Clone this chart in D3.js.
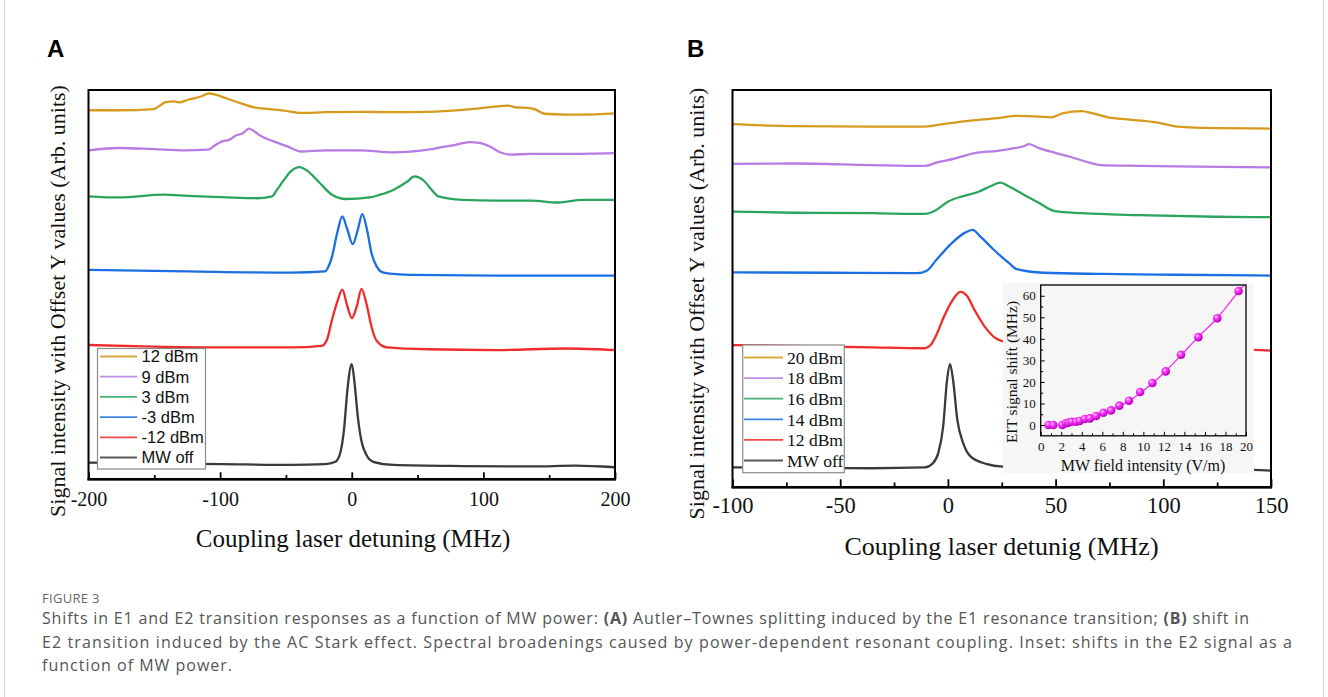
<!DOCTYPE html>
<html><head><meta charset="utf-8">
<script src="https://cdn.jsdelivr.net/npm/d3@7"></script>
<style>body{margin:0;background:#fff;} svg{display:block;}</style>
</head><body>
<svg id="fig" width="1328" height="697"></svg>
<script>
// ---------------- data ----------------
const xTicksA = [-200, -100, 0, 100, 200];
const xMinorA = [-150, -50, 50, 150];
const xTicksB = [-100, -50, 0, 50, 100, 150];
const xMinorB = [-75, -25, 25, 75, 125];
const insetXTicks = [0, 2, 4, 6, 8, 10, 12, 14, 16, 18, 20];
const insetXMinor = [1, 3, 5, 7, 9, 11, 13, 15, 17, 19];
const insetYTicks = [0, 10, 20, 30, 40, 50, 60];
const insetYMinor = [5, 15, 25, 35, 45, 55];

const legendA = ["12 dBm", "9 dBm", "3 dBm", "-3 dBm", "-12 dBm", "MW off"];
const legendB = ["20 dBm", "18 dBm", "16 dBm", "14 dBm", "12 dBm", "MW off"];
const traceColors = ["#d69a1c", "#b77be3", "#2ba45f", "#1b6fe3", "#ef2b2b", "#3a3a3a"];

// Panel A traces: [detuning MHz, offset signal (a.u.)]
const A_12dBm = [[-200,9.48],[-176.5,9.48],[-150.5,9.51],[-146.6,9.58],[-141.4,9.69],[-134.9,9.71],[-130.9,9.68],[-124.4,9.75],[-114,9.84],[-108.8,9.91],[-103.6,9.88],[-95.8,9.79],[-85.3,9.67],[-74.9,9.56],[-61.9,9.51],[-51.5,9.47],[-38.4,9.41],[-20.2,9.43],[5.9,9.44],[31.9,9.43],[58,9.44],[84,9.49],[97.1,9.53],[110.1,9.58],[117.9,9.60],[125.7,9.55],[133.6,9.54],[138.8,9.51],[146.6,9.39],[162.2,9.37],[175.3,9.37],[200,9.40]];
const A_9dBm = [[-200,8.45],[-176.5,8.51],[-150.5,8.48],[-127,8.45],[-108.8,8.47],[-103.6,8.59],[-98.4,8.68],[-93.2,8.72],[-88,8.83],[-82.7,8.89],[-78,9.01],[-74.9,8.96],[-69.7,8.83],[-59.3,8.68],[-48.9,8.55],[-38.4,8.42],[-20.2,8.45],[5.9,8.45],[31.9,8.40],[58,8.47],[68.4,8.53],[78.8,8.59],[89.3,8.66],[97.1,8.64],[104.9,8.55],[112.7,8.40],[120.5,8.34],[136.2,8.36],[162.2,8.36],[200,8.38]];
const A_3dBm = [[-200,7.27],[-176.5,7.24],[-142.7,7.31],[-124.4,7.28],[-98.4,7.25],[-72.3,7.22],[-60.6,7.27],[-56.7,7.44],[-51.5,7.69],[-46.3,7.91],[-39.7,8.02],[-33.2,7.91],[-25.4,7.65],[-15,7.31],[-4.6,7.20],[13.7,7.24],[21.5,7.31],[31.9,7.44],[42.3,7.65],[47.6,7.78],[54.1,7.69],[60.6,7.44],[65.8,7.27],[84,7.18],[110.1,7.16],[136.2,7.16],[157,7.11],[175.3,7.18],[200,7.18]];
const A_m3dBm = [[-200,5.38],[-124.4,5.34],[-46.3,5.31],[-20.2,5.34],[-17.6,5.47],[-15,5.72],[-11.1,6.32],[-7.2,6.75],[-3.3,6.41],[0.7,6.04],[4.6,6.41],[8,6.81],[11.6,6.41],[15,5.81],[18.9,5.47],[24.1,5.31],[44.9,5.25],[110.1,5.23],[200,5.23]];
const A_m12dBm = [[-200,3.45],[-150.5,3.41],[-98.4,3.39],[-46.3,3.39],[-22.8,3.43],[-18.9,3.58],[-15,4.10],[-10.5,4.61],[-7.2,4.87],[-3.3,4.44],[0.1,4.14],[3.8,4.44],[7.4,4.89],[11.1,4.52],[15,3.92],[18.9,3.56],[26.7,3.39],[58,3.34],[110.1,3.32],[162.2,3.36],[200,3.32]];
const A_off = [[-200,0.43],[-150.5,0.41],[-98.4,0.39],[-46.3,0.37],[-20.2,0.39],[-12.4,0.45],[-8.5,0.71],[-5.9,1.27],[-3.3,2.30],[0,2.96],[1.9,2.55],[4.6,1.61],[7.2,1.01],[11.1,0.63],[16.3,0.45],[31.9,0.37],[84,0.34],[136.2,0.33],[170,0.35],[200,0.31]];

// Panel B traces
const B_20dBm = [[-100,9.14],[-71.1,9.09],[-35.5,9.08],[-10.7,9.08],[0,9.16],[10.6,9.23],[23,9.29],[31.9,9.35],[42.6,9.33],[47.9,9.31],[53.2,9.41],[62.1,9.47],[67.4,9.41],[74.5,9.31],[83.4,9.26],[97.6,9.18],[106.5,9.08],[124.3,9.04],[150,9.03]];
const B_18dBm = [[-100,8.14],[-71.1,8.15],[-35.5,8.11],[-10.7,8.09],[-5.4,8.17],[3.5,8.28],[12.4,8.41],[23,8.47],[30.2,8.53],[35.5,8.59],[37.6,8.64],[42.6,8.53],[49.7,8.42],[56.8,8.32],[63.9,8.20],[71,8.11],[88.7,8.09],[115.4,8.07],[150,8.05]];
const B_16dBm = [[-100,6.94],[-71.1,6.91],[-35.5,6.90],[-10.7,6.88],[-5.4,6.98],[0,7.19],[7.1,7.33],[14.2,7.44],[19.5,7.57],[24.4,7.67],[28.4,7.57],[35.5,7.36],[42.6,7.15],[49.7,6.95],[62.1,6.90],[88.7,6.85],[124.3,6.81],[150,6.80]];
const B_14dBm = [[-100,5.41],[-53.4,5.40],[-14.2,5.39],[-9.8,5.45],[-5.4,5.72],[1.7,6.14],[8,6.41],[11.5,6.48],[15.1,6.31],[21.3,5.98],[28.4,5.64],[31.9,5.49],[44.4,5.40],[71,5.37],[106.5,5.35],[150,5.33]];
const B_12dBm = [[-100,3.58],[-71.1,3.56],[-35.5,3.52],[-10.7,3.50],[-8,3.58],[-5.4,3.83],[-1.8,4.30],[1.7,4.67],[5.8,4.92],[8.8,4.82],[12.4,4.46],[17.7,4.00],[22.2,3.75],[25.7,3.67],[35,3.55],[60,3.50],[100,3.47],[142,3.46],[150,3.44]];
const B_off = [[-100,0.50],[-71.1,0.50],[-35.5,0.48],[-10.7,0.50],[-7.1,0.60],[-4.5,0.86],[-2.2,1.53],[-0.4,2.70],[1,3.10],[2.4,2.70],[4.4,1.69],[7.1,1.11],[10.6,0.77],[17.7,0.59],[25.7,0.52],[60,0.48],[100,0.46],[142,0.44],[150,0.42]];

// Inset: MW field intensity (V/m) vs EIT signal shift (MHz)
const insetField = [0.75,1.23,2.1,2.47,2.7,3.0,3.45,3.8,4.3,4.8,5.4,6.1,6.85,7.66,8.6,9.68,10.88,12.18,13.67,15.36,17.2,19.28];
const insetShift = [0,0,0,0.8,1.1,1.5,1.5,1.9,2.8,3.1,4.2,5.7,6.8,9.0,11.3,15.3,19.5,24.9,32.6,40.8,49.6,62.2];
const insetFitField = [2.1,3.0,4.3,5.4,6.85,8.6,10.88,12.18,13.67,15.36,17.2,19.28,20.0];
const insetFitShift = [0.3,1.3,2.7,4.2,6.9,11.2,19.4,25.0,32.4,40.9,49.7,62.0,66.0];

const captionTitle = "FIGURE 3";

// ---------------- drawing ----------------
const svg = d3.select("#fig");
const SERIF = "'Liberation Serif','Times New Roman',serif";
const SANS = "'Liberation Sans',Arial,sans-serif";
const plain = d => String(d);

svg.append("line").attr("x1",4.5).attr("x2",4.5).attr("y1",0).attr("y2",697).attr("stroke","#d8d8d8");
svg.append("line").attr("x1",1323.5).attr("x2",1323.5).attr("y1",0).attr("y2",697).attr("stroke","#d8d8d8");

const defs = svg.append("defs");
const grad = defs.append("radialGradient").attr("id","ball").attr("cx","38%").attr("cy","35%").attr("r","65%");
grad.append("stop").attr("offset","0%").attr("stop-color","#ffe0ff");
grad.append("stop").attr("offset","35%").attr("stop-color","#ff3cff");
grad.append("stop").attr("offset","100%").attr("stop-color","#b000b8");

function panel(cfg) {
  const x = d3.scaleLinear().domain(cfg.xDomain).range([cfg.left, cfg.right]);
  const y = d3.scaleLinear().domain([0, 10]).range([cfg.bottom, cfg.top]);
  const g = svg.append("g");
  defs.append("clipPath").attr("id", cfg.id + "clip")
    .append("rect").attr("x", cfg.left).attr("y", cfg.top)
    .attr("width", cfg.right - cfg.left).attr("height", cfg.bottom - cfg.top);

  const line = d3.line().x(d => x(d[0])).y(d => y(d[1])).curve(d3.curveMonotoneX);
  const traces = g.append("g").attr("clip-path", `url(#${cfg.id}clip)`);
  cfg.traces.forEach((t, i) => {
    traces.append("path").datum(t).attr("d", line)
      .attr("fill", "none").attr("stroke", traceColors[i])
      .attr("stroke-width", 2.3).attr("stroke-linejoin", "round");
  });

  const ax = g.append("g").attr("transform", `translate(0,${cfg.bottom})`)
    .call(d3.axisBottom(x).tickValues(cfg.ticks).tickSize(-cfg.tickLen).tickPadding(cfg.pad).tickFormat(plain));
  ax.select(".domain").remove();
  ax.selectAll(".tick line").attr("stroke", "#000").attr("stroke-width", 1.8);
  ax.selectAll(".tick text").attr("font-family", SERIF).attr("font-size", cfg.tickFont).attr("fill", "#111");
  const mx = g.append("g").attr("transform", `translate(0,${cfg.bottom})`)
    .call(d3.axisBottom(x).tickValues(cfg.minor).tickSize(-cfg.tickLen * 0.6).tickFormat(""));
  mx.select(".domain").remove();
  mx.selectAll(".tick line").attr("stroke", "#000").attr("stroke-width", 1.8);

  g.append("rect").attr("x", cfg.left).attr("y", cfg.top)
    .attr("width", cfg.right - cfg.left).attr("height", cfg.bottom - cfg.top)
    .attr("fill", "none").attr("stroke", "#000").attr("stroke-width", 2);
  g.append("line").attr("x1", cfg.left - 1).attr("x2", cfg.right + 1)
    .attr("y1", cfg.bottom).attr("y2", cfg.bottom).attr("stroke", "#000").attr("stroke-width", 2.6);

  g.append("text").attr("x", cfg.xLabelX).attr("y", cfg.xLabelY).attr("text-anchor", "middle")
    .attr("font-family", SERIF).attr("font-size", cfg.xLabelFont).attr("fill", "#111").text(cfg.xLabel);
  g.append("text").attr("transform", `translate(${cfg.yLabelX},${cfg.yLabelY}) rotate(-90)`)
    .attr("text-anchor", "middle").attr("font-family", SERIF).attr("font-size", 22).attr("fill", "#111")
    .text("Signal intensity with Offset Y values (Arb. units)");
  g.append("text").attr("x", cfg.letterX).attr("y", 57).attr("font-family", SANS)
    .attr("font-weight", "bold").attr("font-size", 24).attr("fill", "#000").text(cfg.letter);
  return { x, y, g };
}

panel({
  id: "A", letter: "A", letterX: 47,
  xDomain: [-200, 200], left: 88.5, right: 615, top: 90, bottom: 479.3,
  ticks: xTicksA, minor: xMinorA, tickLen: 7, pad: 12.5, tickFont: 20,
  traces: [A_12dBm, A_9dBm, A_3dBm, A_m3dBm, A_m12dBm, A_off],
  xLabel: "Coupling laser detuning (MHz)", xLabelX: 353, xLabelY: 547, xLabelFont: 25,
  yLabelX: 65, yLabelY: 301
});

panel({
  id: "B", letter: "B", letterX: 687,
  xDomain: [-100, 150], left: 732.5, right: 1271, top: 90, bottom: 487.3,
  ticks: xTicksB, minor: xMinorB, tickLen: 8, pad: 10, tickFont: 22.5,
  traces: [B_20dBm, B_18dBm, B_16dBm, B_14dBm, B_12dBm, B_off],
  xLabel: "Coupling laser detunig (MHz)", xLabelX: 1001.5, xLabelY: 555, xLabelFont: 26,
  yLabelX: 704, yLabelY: 303.5
});

function legend(names, box, rowY0, rowStep, lineX0, lineX1, textX, font, fsize) {
  const g = svg.append("g");
  g.append("rect").attr("x", box[0]).attr("y", box[1]).attr("width", box[2]).attr("height", box[3])
    .attr("fill", "#fff").attr("stroke", "#8a8a8a").attr("stroke-width", 1.2);
  names.forEach((n, i) => {
    const cy = rowY0 + i * rowStep;
    g.append("line").attr("x1", lineX0).attr("x2", lineX1).attr("y1", cy).attr("y2", cy)
      .attr("stroke", traceColors[i]).attr("stroke-opacity", 0.85).attr("stroke-width", 1.8);
    g.append("text").attr("x", textX).attr("y", cy).attr("dy", "0.36em")
      .attr("font-family", font).attr("font-size", fsize).attr("fill", "#111").text(n);
  });
}
legend(legendA, [97.5, 348.5, 108, 120.5], 356.5, 20.2, 100, 137, 141.5, SANS, 16.5);
legend(legendB, [742.7, 345, 101.6, 127.7], 357.5, 20.6, 744, 783, 787, SERIF, 17.5);

// ---------------- inset ----------------
const ig = svg.append("g");
ig.append("rect").attr("x", 1003).attr("y", 283).attr("width", 251).attr("height", 190).attr("fill", "#f6f6f6");
const ix = d3.scaleLinear().domain([0, 20]).range([1040.7, 1246]);
const iy = d3.scaleLinear().domain([-5, 65]).range([435.8, 285]);
defs.append("clipPath").attr("id", "iclip").append("rect")
  .attr("x", 1040.7).attr("y", 285).attr("width", 1246 - 1040.7).attr("height", 435.8 - 285);

const fitPts = insetFitField.map((v, i) => [v, insetFitShift[i]]);
ig.append("path").datum(fitPts).attr("clip-path", "url(#iclip)")
  .attr("d", d3.line().x(d => ix(d[0])).y(d => iy(d[1])).curve(d3.curveMonotoneX))
  .attr("fill", "none").attr("stroke", "#ff2bff").attr("stroke-width", 1.3);
ig.selectAll("circle.pt").data(insetField.map((v, i) => [v, insetShift[i]])).join("circle")
  .attr("class", "pt").attr("cx", d => ix(d[0])).attr("cy", d => iy(d[1])).attr("r", 4.3)
  .attr("fill", "url(#ball)");

const ixa = ig.append("g").attr("transform", "translate(0,435.8)")
  .call(d3.axisBottom(ix).tickValues(insetXTicks).tickSize(-4).tickPadding(6).tickFormat(plain));
const ixm = ig.append("g").attr("transform", "translate(0,435.8)")
  .call(d3.axisBottom(ix).tickValues(insetXMinor).tickSize(-2.5).tickFormat(""));
const iya = ig.append("g").attr("transform", "translate(1040.7,0)")
  .call(d3.axisLeft(iy).tickValues(insetYTicks).tickSize(-4).tickPadding(5).tickFormat(plain));
const iym = ig.append("g").attr("transform", "translate(1040.7,0)")
  .call(d3.axisLeft(iy).tickValues(insetYMinor).tickSize(-2.5).tickFormat(""));
[ixa, ixm, iya, iym].forEach(a => {
  a.select(".domain").remove();
  a.selectAll(".tick line").attr("stroke", "#000").attr("stroke-width", 1);
  a.selectAll(".tick text").attr("font-family", SERIF).attr("font-size", 13).attr("fill", "#111");
});
ig.append("rect").attr("x", 1040.7).attr("y", 285).attr("width", 1246 - 1040.7).attr("height", 435.8 - 285)
  .attr("fill", "none").attr("stroke", "#000").attr("stroke-width", 1.3);
ig.append("text").attr("x", 1143).attr("y", 471).attr("text-anchor", "middle")
  .attr("font-family", SERIF).attr("font-size", 16).attr("fill", "#111").text("MW field intensity (V/m)");
ig.append("text").attr("transform", "translate(1017,372) rotate(-90)").attr("text-anchor", "middle")
  .attr("font-family", SERIF).attr("font-size", 15.5).attr("fill", "#111").text("EIT signal shift (MHz)");

// ---------------- caption ----------------
const CAP = "'Open Sans','Noto Sans',sans-serif";
svg.append("text").attr("x", 42).attr("y", 603).attr("font-family", CAP).attr("font-size", 13)
  .attr("letter-spacing", 0.3).attr("fill", "#666").text(captionTitle);
const capLines = [
  [["Shifts in E1 and E2 transition responses as a function of MW power: ", false], ["(A)", true],
   [" Autler\u2013Townes splitting induced by the E1 resonance transition; ", false], ["(B)", true], [" shift in", false]],
  [["E2 transition induced by the AC Stark effect. Spectral broadenings caused by power-dependent resonant coupling. Inset: shifts in the E2 signal as a", false]],
  [["function of MW power.", false]]
];
const capY = [624, 648, 671];
const capWidth = [1208, 1251, null];
capLines.forEach((parts, i) => {
  const t = svg.append("text").attr("x", 42).attr("y", capY[i]).attr("font-family", CAP)
    .attr("font-size", 16).attr("letter-spacing", 1).attr("fill", "#555");
  parts.forEach(p => t.append("tspan").attr("font-weight", p[1] ? "bold" : null).text(p[0]));
  if (capWidth[i]) t.attr("textLength", capWidth[i]).attr("lengthAdjust", "spacing");
});
</script>
</body></html>
